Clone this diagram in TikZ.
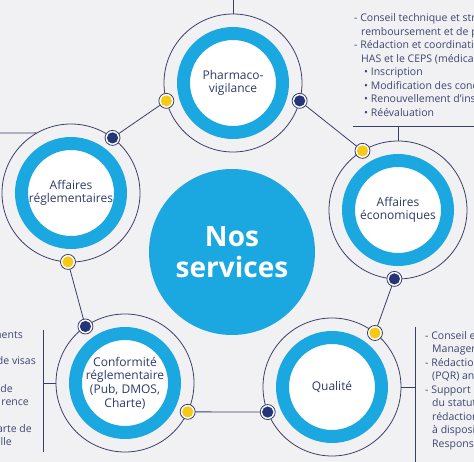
\documentclass[tikz,border=0pt]{standalone}
\usepackage{fontspec}
\setmainfont{Open Sans}
\usetikzlibrary{calc}
\definecolor{bgc}{HTML}{F1F1F4}
\definecolor{bluec}{HTML}{1BA8E0}
\definecolor{navyc}{HTML}{25357A}
\definecolor{yellowc}{HTML}{F6C915}
\definecolor{linec}{HTML}{3A3F66}
\definecolor{txtc}{HTML}{2E3A6A}
\definecolor{sidec}{HTML}{3E4670}
\begin{document}
\begin{tikzpicture}[x=1pt,y=-1pt,
  outerc/.style={circle, draw=linec, line width=0.8pt, minimum size=138pt, inner sep=0pt},
  ringc/.style={circle, draw=bluec, fill=white, line width=13pt, minimum size=99pt, inner sep=0pt,
     text=txtc, align=center, font=\fontsize{12}{13.6}\selectfont},
  ydot/.style={circle, fill=white, draw=linec, line width=0.8pt, minimum size=15pt, inner sep=0pt,
     path picture={\fill[yellowc] (path picture bounding box.center) circle (5.6pt);}},
  ndot/.style={circle, fill=white, draw=linec, line width=0.8pt, minimum size=15pt, inner sep=0pt,
     path picture={\fill[navyc] (path picture bounding box.center) circle (5.6pt);}},
  conn/.style={draw=linec, line width=0.8pt},
  sidetxt/.style={text=sidec, align=left, inner sep=0pt, font=\fontsize{10.5}{13.5}\selectfont},
  frag/.style={text=sidec, inner sep=0pt, anchor=base east, font=\fontsize{10.5}{13.5}\selectfont}
]
\useasboundingbox (0,0) rectangle (474,462);
\fill[bgc] (0,0) rectangle (474,462);
\clip (0,0) rectangle (474,462);

% central circle
\node[circle, fill=bluec, minimum size=166pt, inner sep=0pt, text=white, align=center,
  font=\fontsize{28}{31}\bfseries] (NS) at (232,252) {Nos\\services};

% satellites
\node[outerc] (Po) at (233,83) {};
\node[ringc] (P) at (233,83) {Pharmaco-\\vigilance};
\node[outerc] (ARo) at (71,193) {};
\node[ringc] (AR) at (71,193) {Affaires\\réglementaires};
\node[outerc] (AEo) at (398,210) {};
\node[ringc] (AE) at (398,210) {Affaires\\économiques};
\node[outerc] (Qo) at (332,387) {};
\node[ringc] (Q) at (332,387) {Qualité};
\node[outerc] (CFo) at (125,383) {};
\node[ringc] (CF) at (125,383) {Conformité\\réglementaire\\(Pub, DMOS,\\Charte)};

% connectors between dots
\coordinate (Pyc) at ($(P)+(165:69)$);
\coordinate (Pnc) at ($(P)+(15:69)$);
\coordinate (ARnc) at ($(AR)+(-53:69)$);
\coordinate (ARyc) at ($(AR)+(92.5:69)$);
\coordinate (AEyc) at ($(AE)+(-121:69)$);
\coordinate (AEnc) at ($(AE)+(93:69)$);
\coordinate (Qyc) at ($(Q)+(-51.5:69)$);
\coordinate (Qnc) at ($(Q)+(158.7:69)$);
\coordinate (CFnc) at ($(CF)+(-125:69)$);
\coordinate (CFyc) at ($(CF)+(24.7:69)$);

\draw[conn] (Pyc) -- (ARnc);
\draw[conn] (Pnc) -- (AEyc);
\draw[conn] (AEnc) -- (Qyc);
\draw[conn] (Qnc) -- (CFyc);
\draw[conn] (CFnc) -- (ARyc);

\node[ydot] (Py) at (Pyc) {};
\node[ndot] (Pn) at (Pnc) {};
\node[ndot] (ARn) at (ARnc) {};
\node[ydot] (ARy) at (ARyc) {};
\node[ydot] (AEy) at (AEyc) {};
\node[ndot] (AEn) at (AEnc) {};
\node[ydot] (Qy) at (Qyc) {};
\node[ndot] (Qn) at (Qnc) {};
\node[ndot] (CFn) at (CFnc) {};
\node[ydot] (CFy) at (CFyc) {};

% outgoing lines
\coordinate (ptop) at (233,-5);
\draw[conn] (Po.north) -- (ptop);
\coordinate (arl) at (-5,133);
\draw[conn] (ARo.120) -- (arl);

\coordinate (tbL) at (353,126);
\coordinate (tbR) at (480,126);
\draw[conn] (tbL) -- (tbR);
\draw[conn] (AEo.north) -- (AEo.north |- tbL);

\coordinate (lb1) at (43,330);
\coordinate (lb2) at (43,452);
\draw[conn] (lb1) -- (lb2);
\draw[conn] (CFo.west) -- (CFo.west -| lb1);

\coordinate (rb1) at (415,327);
\coordinate (rb2) at (415,470);
\draw[conn] (rb1) -- (rb2);
\draw[conn] (Qo.east) -- (Qo.east -| rb1);

% texts (anchored at the baseline of their last line)
\node[sidetxt, anchor=base west] (TR) at (354,116.5) {- Conseil technique et stratégique sur le\\
\hspace*{7pt}remboursement et de prix\\
- Rédaction et coordination des dossiers auprès de la\\
\hspace*{7pt}HAS et le CEPS (médicaments)\\
\hspace*{10pt}• Inscription\\
\hspace*{10pt}• Modification des conditions d'inscription\\
\hspace*{10pt}• Renouvellement d'inscription\\
\hspace*{10pt}• Réévaluation};

\node[sidetxt, anchor=base west] (BR) at (425,447) {- Conseil et\\
\hspace*{7pt}Management\\
- Rédaction\\
\hspace*{7pt}(PQR) annuelles\\
- Support\\
\hspace*{7pt}du statut\\
\hspace*{7pt}rédaction\\
\hspace*{7pt}à disposition\\
\hspace*{7pt}Responsable};

\node[frag] (L1) at (23,338) {ments};
\node[frag] (L2) at (36,365) {de visas};
\node[frag] (L3) at (13,392) {de};
\node[frag] (L4) at (29,405) {rence};
\node[frag] (L5) at (32,432) {arte de};
\node[frag] (L6) at (12,445) {lle};
\end{tikzpicture}
\end{document}
